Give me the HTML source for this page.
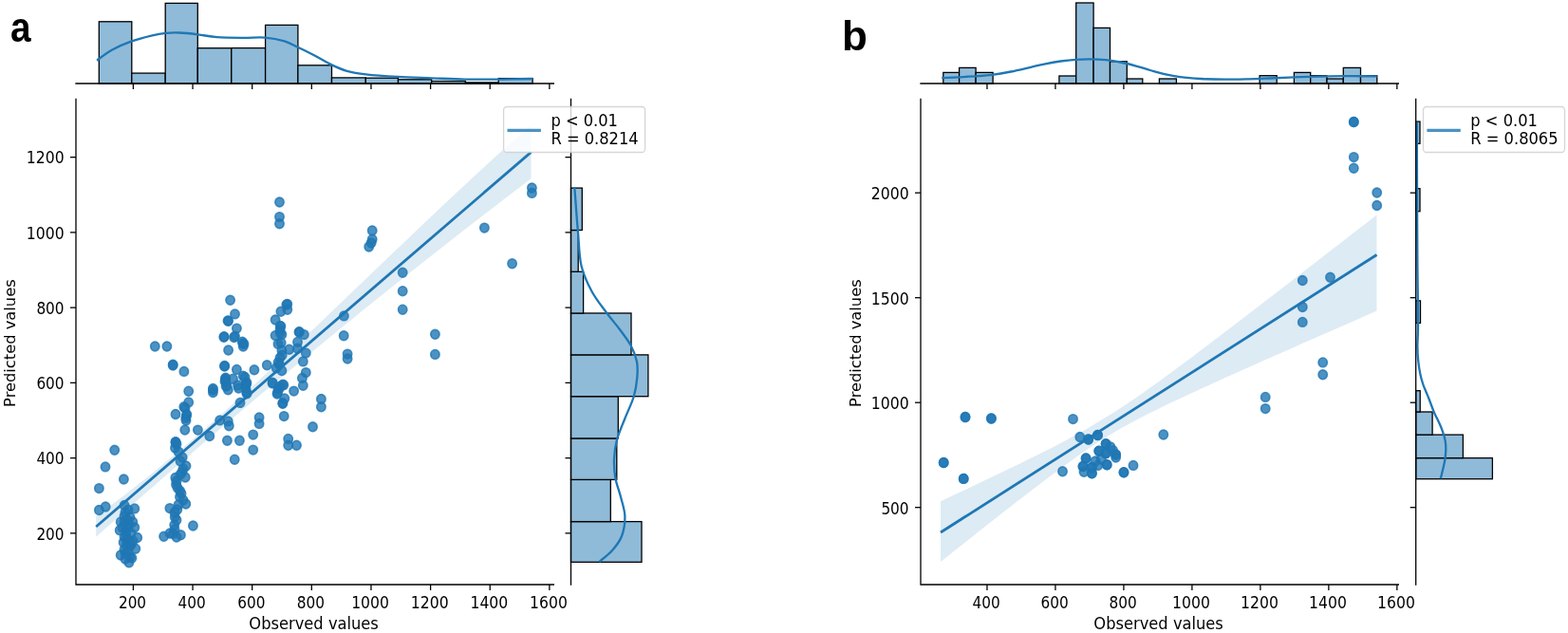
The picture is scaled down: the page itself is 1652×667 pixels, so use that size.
<!DOCTYPE html>
<html><head><meta charset="utf-8"><title>Observed vs predicted values</title>
<style>html,body{margin:0;padding:0;background:#fff;width:1652px;height:667px;overflow:hidden}svg{display:block}</style>
</head><body>
<svg width="1652" height="667" viewBox="0 0 1652 667">
<rect width="1652" height="667" fill="#fff"/>
<rect x="104.3" y="22.8" width="34.5" height="65.2" fill="#8fbbd9" stroke="#000" stroke-width="1.3"/>
<rect x="138.8" y="77.1" width="35.4" height="10.9" fill="#8fbbd9" stroke="#000" stroke-width="1.3"/>
<rect x="174.2" y="3.4" width="34.1" height="84.6" fill="#8fbbd9" stroke="#000" stroke-width="1.3"/>
<rect x="208.3" y="50.7" width="35.5" height="37.3" fill="#8fbbd9" stroke="#000" stroke-width="1.3"/>
<rect x="243.8" y="50.6" width="35.8" height="37.4" fill="#8fbbd9" stroke="#000" stroke-width="1.3"/>
<rect x="279.6" y="26.4" width="34.3" height="61.6" fill="#8fbbd9" stroke="#000" stroke-width="1.3"/>
<rect x="313.9" y="68.8" width="35.6" height="19.2" fill="#8fbbd9" stroke="#000" stroke-width="1.3"/>
<rect x="349.5" y="81.9" width="35.8" height="6.1" fill="#8fbbd9" stroke="#000" stroke-width="1.3"/>
<rect x="385.3" y="82.2" width="34.2" height="5.8" fill="#8fbbd9" stroke="#000" stroke-width="1.3"/>
<rect x="419.5" y="83.8" width="35.2" height="4.2" fill="#8fbbd9" stroke="#000" stroke-width="1.3"/>
<rect x="454.7" y="85.5" width="35.7" height="2.5" fill="#8fbbd9" stroke="#000" stroke-width="1.3"/>
<rect x="490.4" y="86.9" width="34.8" height="1.1" fill="#8fbbd9" stroke="#000" stroke-width="1.3"/>
<rect x="525.2" y="82.6" width="35.9" height="5.4" fill="#8fbbd9" stroke="#000" stroke-width="1.3"/>
<path d="M102.1,63.7 C104.7,61.87 111.58,56.08 117.7,52.7 C123.82,49.32 131.67,45.97 138.8,43.4 C145.93,40.83 154.52,38.72 160.5,37.3 C166.48,35.88 169.95,35.37 174.7,34.9 C179.45,34.43 183.37,34.27 189,34.5 C194.63,34.73 201.92,35.52 208.5,36.3 C215.08,37.08 220.42,38.6 228.5,39.2 C236.58,39.8 248.58,39.83 257,39.9 C265.42,39.97 271.88,39.02 279,39.6 C286.12,40.18 293.87,41.68 299.7,43.4 C305.53,45.12 308.95,47.52 314,49.9 C319.05,52.28 324.08,54.62 330,57.7 C335.92,60.78 343.57,65.55 349.5,68.4 C355.43,71.25 359.63,73.15 365.6,74.8 C371.57,76.45 376.32,77.28 385.3,78.3 C394.28,79.32 407.88,80.23 419.5,80.9 C431.12,81.57 443.25,81.85 455,82.3 C466.75,82.75 478.33,83.38 490,83.6 C501.67,83.82 513.17,83.7 525,83.6 C536.83,83.5 555,83.1 561,83" fill="none" stroke="#1f77b4" stroke-width="2.3" stroke-linecap="butt"/>
<line x1="79.35" y1="88" x2="584" y2="88" stroke="#000" stroke-width="1.3"/>
<line x1="140.4" y1="88" x2="140.4" y2="94" stroke="#000" stroke-width="1.3"/>
<line x1="203.04" y1="88" x2="203.04" y2="94" stroke="#000" stroke-width="1.3"/>
<line x1="265.68" y1="88" x2="265.68" y2="94" stroke="#000" stroke-width="1.3"/>
<line x1="328.32" y1="88" x2="328.32" y2="94" stroke="#000" stroke-width="1.3"/>
<line x1="390.96" y1="88" x2="390.96" y2="94" stroke="#000" stroke-width="1.3"/>
<line x1="453.6" y1="88" x2="453.6" y2="94" stroke="#000" stroke-width="1.3"/>
<line x1="516.24" y1="88" x2="516.24" y2="94" stroke="#000" stroke-width="1.3"/>
<line x1="578.88" y1="88" x2="578.88" y2="94" stroke="#000" stroke-width="1.3"/>
<rect x="601.5" y="549.6" width="74.5" height="42.7" fill="#8fbbd9" stroke="#000" stroke-width="1.3"/>
<rect x="601.5" y="505.4" width="41.8" height="44.2" fill="#8fbbd9" stroke="#000" stroke-width="1.3"/>
<rect x="601.5" y="461.9" width="48.3" height="43.5" fill="#8fbbd9" stroke="#000" stroke-width="1.3"/>
<rect x="601.5" y="417.7" width="49.8" height="44.2" fill="#8fbbd9" stroke="#000" stroke-width="1.3"/>
<rect x="601.5" y="373.9" width="81.4" height="43.8" fill="#8fbbd9" stroke="#000" stroke-width="1.3"/>
<rect x="601.5" y="330" width="63.5" height="43.9" fill="#8fbbd9" stroke="#000" stroke-width="1.3"/>
<rect x="601.5" y="286.3" width="13.1" height="43.7" fill="#8fbbd9" stroke="#000" stroke-width="1.3"/>
<rect x="601.5" y="242.5" width="7.7" height="43.8" fill="#8fbbd9" stroke="#000" stroke-width="1.3"/>
<rect x="601.5" y="198.1" width="11.8" height="44.4" fill="#8fbbd9" stroke="#000" stroke-width="1.3"/>
<path d="M605.3,197 C605.58,200.83 606.38,212 607,220 C607.62,228 608.08,235 609,245 C609.92,255 610.07,269.62 612.5,280 C614.93,290.38 619.12,298.97 623.6,307.3 C628.08,315.63 634.5,323.35 639.4,330 C644.3,336.65 648.8,341.53 653,347.2 C657.2,352.87 661.62,358.4 664.6,364 C667.58,369.6 669.78,375.2 670.9,380.8 C672.02,386.4 671.83,391.4 671.3,397.6 C670.77,403.8 669.85,410.77 667.7,418 C665.55,425.23 661.38,433.33 658.4,441 C655.42,448.67 651.7,456.83 649.8,464 C647.9,471.17 647.23,477.33 647,484 C646.77,490.67 647.22,497.33 648.4,504 C649.58,510.67 652.43,517.33 654.1,524 C655.77,530.67 658.25,537.17 658.4,544 C658.55,550.83 657.23,559 655,565 C652.77,571 648.95,575.5 645,580 C641.05,584.5 633.58,590 631.3,592" fill="none" stroke="#1f77b4" stroke-width="2.3"/>
<line x1="601.5" y1="103.7" x2="601.5" y2="616.65" stroke="#000" stroke-width="1.3"/>
<line x1="595.5" y1="561.86" x2="601.5" y2="561.86" stroke="#000" stroke-width="1.3"/>
<line x1="595.5" y1="482.62" x2="601.5" y2="482.62" stroke="#000" stroke-width="1.3"/>
<line x1="595.5" y1="403.38" x2="601.5" y2="403.38" stroke="#000" stroke-width="1.3"/>
<line x1="595.5" y1="324.14" x2="601.5" y2="324.14" stroke="#000" stroke-width="1.3"/>
<line x1="595.5" y1="244.9" x2="601.5" y2="244.9" stroke="#000" stroke-width="1.3"/>
<line x1="595.5" y1="165.66" x2="601.5" y2="165.66" stroke="#000" stroke-width="1.3"/>
<polygon points="101.2,543.98 106.93,539.83 112.66,535.63 118.39,531.37 124.12,527.06 129.84,522.7 135.57,518.29 141.3,513.83 147.03,509.33 152.76,504.77 158.49,500.17 164.22,495.53 169.94,490.85 175.67,486.12 181.4,481.35 187.13,476.55 192.86,471.7 198.59,466.82 204.32,461.9 210.05,456.94 215.78,451.95 221.5,446.93 227.23,441.87 232.96,436.79 238.69,431.67 244.42,426.53 250.15,421.36 255.88,416.16 261.61,410.94 267.33,405.69 273.06,400.42 278.79,395.12 284.52,389.81 290.25,384.48 295.98,379.12 301.71,373.75 307.44,368.37 313.16,362.97 318.89,357.55 324.62,352.12 330.35,346.68 336.08,341.23 341.81,335.76 347.54,330.29 353.26,324.82 358.99,319.33 364.72,313.84 370.45,308.34 376.18,302.85 381.91,297.35 387.64,291.84 393.37,286.34 399.1,280.84 404.82,275.34 410.55,269.85 416.28,264.36 422.01,258.88 427.74,253.4 433.47,247.93 439.2,242.47 444.93,237.02 450.65,231.58 456.38,226.15 462.11,220.73 467.84,215.33 473.57,209.95 479.3,204.58 485.03,199.23 490.75,193.9 496.48,188.59 502.21,183.3 507.94,178.03 513.67,172.79 519.4,167.57 525.13,162.37 530.86,157.2 536.59,152.06 542.31,146.95 548.04,141.87 553.77,136.82 559.5,131.8 559.5,188.31 553.77,192.65 548.04,197.01 542.31,201.37 536.59,205.74 530.86,210.12 525.13,214.51 519.4,218.92 513.67,223.33 507.94,227.75 502.21,232.17 496.48,236.61 490.75,241.06 485.03,245.52 479.3,249.99 473.57,254.46 467.84,258.95 462.11,263.44 456.38,267.95 450.65,272.46 444.93,276.99 439.2,281.52 433.47,286.06 427.74,290.61 422.01,295.17 416.28,299.75 410.55,304.33 404.82,308.92 399.1,313.52 393.37,318.12 387.64,322.74 381.91,327.37 376.18,332.01 370.45,336.65 364.72,341.31 358.99,345.97 353.26,350.65 347.54,355.33 341.81,360.03 336.08,364.73 330.35,369.44 324.62,374.16 318.89,378.9 313.16,383.64 307.44,388.39 301.71,393.15 295.98,397.92 290.25,402.69 284.52,407.48 278.79,412.28 273.06,417.09 267.33,421.9 261.61,426.73 255.88,431.57 250.15,436.41 244.42,441.26 238.69,446.13 232.96,451 227.23,455.88 221.5,460.78 215.78,465.68 210.05,470.59 204.32,475.51 198.59,480.44 192.86,485.38 187.13,490.33 181.4,495.28 175.67,500.25 169.94,505.23 164.22,510.22 158.49,515.21 152.76,520.22 147.03,525.23 141.3,530.26 135.57,535.29 129.84,540.33 124.12,545.39 118.39,550.45 112.66,555.52 106.93,560.6 101.2,565.69" fill="#ddebf4"/>
<g fill="#1f77b4" fill-opacity="0.8" stroke="#1f77b4" stroke-opacity="0.8" stroke-width="1.6">
<ellipse cx="294.5" cy="213" rx="4.65" ry="4.9"/>
<ellipse cx="294.5" cy="228.6" rx="4.65" ry="4.9"/>
<ellipse cx="294.5" cy="235.8" rx="4.65" ry="4.9"/>
<ellipse cx="392.2" cy="243" rx="4.65" ry="4.9"/>
<ellipse cx="392.2" cy="252.2" rx="4.65" ry="4.9"/>
<ellipse cx="391.1" cy="256" rx="4.65" ry="4.9"/>
<ellipse cx="388.7" cy="260" rx="4.65" ry="4.9"/>
<ellipse cx="424.2" cy="287.3" rx="4.65" ry="4.9"/>
<ellipse cx="424.2" cy="306.7" rx="4.65" ry="4.9"/>
<ellipse cx="424.2" cy="326.2" rx="4.65" ry="4.9"/>
<ellipse cx="362.4" cy="332.9" rx="4.65" ry="4.9"/>
<ellipse cx="362.2" cy="353.8" rx="4.65" ry="4.9"/>
<ellipse cx="366.1" cy="373.1" rx="4.65" ry="4.9"/>
<ellipse cx="366.1" cy="378" rx="4.65" ry="4.9"/>
<ellipse cx="458.4" cy="352.3" rx="4.65" ry="4.9"/>
<ellipse cx="458.4" cy="373.4" rx="4.65" ry="4.9"/>
<ellipse cx="338.4" cy="420.5" rx="4.65" ry="4.9"/>
<ellipse cx="338.4" cy="428.7" rx="4.65" ry="4.9"/>
<ellipse cx="329.5" cy="449.8" rx="4.65" ry="4.9"/>
<ellipse cx="510.4" cy="240.1" rx="4.65" ry="4.9"/>
<ellipse cx="539.6" cy="277.8" rx="4.65" ry="4.9"/>
<ellipse cx="560.4" cy="198" rx="4.65" ry="4.9"/>
<ellipse cx="560.4" cy="203.4" rx="4.65" ry="4.9"/>
<ellipse cx="120.7" cy="474.3" rx="4.65" ry="4.9"/>
<ellipse cx="111" cy="491.9" rx="4.65" ry="4.9"/>
<ellipse cx="130.4" cy="505" rx="4.65" ry="4.9"/>
<ellipse cx="104.4" cy="514.6" rx="4.65" ry="4.9"/>
<ellipse cx="104.4" cy="537.5" rx="4.65" ry="4.9"/>
<ellipse cx="111.2" cy="534" rx="4.65" ry="4.9"/>
<ellipse cx="163.3" cy="365" rx="4.65" ry="4.9"/>
<ellipse cx="175.9" cy="365" rx="4.65" ry="4.9"/>
<ellipse cx="182.2" cy="384.2" rx="4.65" ry="4.9"/>
<ellipse cx="193.9" cy="391.4" rx="4.65" ry="4.9"/>
<ellipse cx="198.7" cy="412.2" rx="4.65" ry="4.9"/>
<ellipse cx="198.7" cy="423.9" rx="4.65" ry="4.9"/>
<ellipse cx="193.8" cy="428.7" rx="4.65" ry="4.9"/>
<ellipse cx="185" cy="436.5" rx="4.65" ry="4.9"/>
<ellipse cx="196.7" cy="436.5" rx="4.65" ry="4.9"/>
<ellipse cx="195.8" cy="440.4" rx="4.65" ry="4.9"/>
<ellipse cx="194.8" cy="453.1" rx="4.65" ry="4.9"/>
<ellipse cx="208.4" cy="453.1" rx="4.65" ry="4.9"/>
<ellipse cx="185" cy="465.8" rx="4.65" ry="4.9"/>
<ellipse cx="184.5" cy="472" rx="4.65" ry="4.9"/>
<ellipse cx="192.2" cy="482" rx="4.65" ry="4.9"/>
<ellipse cx="196" cy="491" rx="4.65" ry="4.9"/>
<ellipse cx="192" cy="497.2" rx="4.65" ry="4.9"/>
<ellipse cx="184.8" cy="503.5" rx="4.65" ry="4.9"/>
<ellipse cx="195.2" cy="503" rx="4.65" ry="4.9"/>
<ellipse cx="185.5" cy="510.5" rx="4.65" ry="4.9"/>
<ellipse cx="189.6" cy="517.3" rx="4.65" ry="4.9"/>
<ellipse cx="189.5" cy="523.5" rx="4.65" ry="4.9"/>
<ellipse cx="195.8" cy="531" rx="4.65" ry="4.9"/>
<ellipse cx="178.9" cy="535.6" rx="4.65" ry="4.9"/>
<ellipse cx="186.8" cy="537" rx="4.65" ry="4.9"/>
<ellipse cx="184.2" cy="544.7" rx="4.65" ry="4.9"/>
<ellipse cx="183.7" cy="553.3" rx="4.65" ry="4.9"/>
<ellipse cx="203.4" cy="554" rx="4.65" ry="4.9"/>
<ellipse cx="172.6" cy="565.3" rx="4.65" ry="4.9"/>
<ellipse cx="182.4" cy="562.2" rx="4.65" ry="4.9"/>
<ellipse cx="190.4" cy="563.8" rx="4.65" ry="4.9"/>
<ellipse cx="131.1" cy="532.4" rx="4.65" ry="4.9"/>
<ellipse cx="141.8" cy="535.9" rx="4.65" ry="4.9"/>
<ellipse cx="135" cy="537.3" rx="4.65" ry="4.9"/>
<ellipse cx="131" cy="544" rx="4.65" ry="4.9"/>
<ellipse cx="127.2" cy="549.9" rx="4.65" ry="4.9"/>
<ellipse cx="139.8" cy="549.9" rx="4.65" ry="4.9"/>
<ellipse cx="126.2" cy="558.7" rx="4.65" ry="4.9"/>
<ellipse cx="134" cy="555.8" rx="4.65" ry="4.9"/>
<ellipse cx="141.8" cy="555.8" rx="4.65" ry="4.9"/>
<ellipse cx="144.7" cy="566.5" rx="4.65" ry="4.9"/>
<ellipse cx="133" cy="565.5" rx="4.65" ry="4.9"/>
<ellipse cx="130.1" cy="571.4" rx="4.65" ry="4.9"/>
<ellipse cx="134" cy="569.4" rx="4.65" ry="4.9"/>
<ellipse cx="142.8" cy="578.2" rx="4.65" ry="4.9"/>
<ellipse cx="136.9" cy="575.3" rx="4.65" ry="4.9"/>
<ellipse cx="132" cy="583.1" rx="4.65" ry="4.9"/>
<ellipse cx="127.2" cy="585" rx="4.65" ry="4.9"/>
<ellipse cx="138.9" cy="587.9" rx="4.65" ry="4.9"/>
<ellipse cx="135.9" cy="592.8" rx="4.65" ry="4.9"/>
<ellipse cx="242.6" cy="316.3" rx="4.65" ry="4.9"/>
<ellipse cx="247.5" cy="330.9" rx="4.65" ry="4.9"/>
<ellipse cx="240.6" cy="338.3" rx="4.65" ry="4.9"/>
<ellipse cx="249.4" cy="346.1" rx="4.65" ry="4.9"/>
<ellipse cx="235.8" cy="355.3" rx="4.65" ry="4.9"/>
<ellipse cx="247.5" cy="354.3" rx="4.65" ry="4.9"/>
<ellipse cx="255.3" cy="360.2" rx="4.65" ry="4.9"/>
<ellipse cx="256.2" cy="365" rx="4.65" ry="4.9"/>
<ellipse cx="240.6" cy="369" rx="4.65" ry="4.9"/>
<ellipse cx="236.7" cy="385.5" rx="4.65" ry="4.9"/>
<ellipse cx="249.4" cy="389.4" rx="4.65" ry="4.9"/>
<ellipse cx="267.9" cy="389.8" rx="4.65" ry="4.9"/>
<ellipse cx="237.7" cy="398.2" rx="4.65" ry="4.9"/>
<ellipse cx="245.5" cy="399.2" rx="4.65" ry="4.9"/>
<ellipse cx="256.2" cy="396.2" rx="4.65" ry="4.9"/>
<ellipse cx="259.2" cy="405" rx="4.65" ry="4.9"/>
<ellipse cx="260.1" cy="414.8" rx="4.65" ry="4.9"/>
<ellipse cx="224.4" cy="409.5" rx="4.65" ry="4.9"/>
<ellipse cx="224.4" cy="413.6" rx="4.65" ry="4.9"/>
<ellipse cx="239" cy="406.5" rx="4.65" ry="4.9"/>
<ellipse cx="240.3" cy="410.7" rx="4.65" ry="4.9"/>
<ellipse cx="250.5" cy="406" rx="4.65" ry="4.9"/>
<ellipse cx="251.4" cy="409" rx="4.65" ry="4.9"/>
<ellipse cx="259.5" cy="404.5" rx="4.65" ry="4.9"/>
<ellipse cx="259.8" cy="413.5" rx="4.65" ry="4.9"/>
<ellipse cx="253" cy="424.4" rx="4.65" ry="4.9"/>
<ellipse cx="302.8" cy="320.5" rx="4.65" ry="4.9"/>
<ellipse cx="302.8" cy="326.3" rx="4.65" ry="4.9"/>
<ellipse cx="295.9" cy="328.3" rx="4.65" ry="4.9"/>
<ellipse cx="290.1" cy="337" rx="4.65" ry="4.9"/>
<ellipse cx="295.9" cy="343.9" rx="4.65" ry="4.9"/>
<ellipse cx="295" cy="347.8" rx="4.65" ry="4.9"/>
<ellipse cx="290.1" cy="353.6" rx="4.65" ry="4.9"/>
<ellipse cx="296.9" cy="352.6" rx="4.65" ry="4.9"/>
<ellipse cx="293" cy="362.4" rx="4.65" ry="4.9"/>
<ellipse cx="315.4" cy="349.7" rx="4.65" ry="4.9"/>
<ellipse cx="320.3" cy="352.6" rx="4.65" ry="4.9"/>
<ellipse cx="313.5" cy="360.4" rx="4.65" ry="4.9"/>
<ellipse cx="304.7" cy="368.2" rx="4.65" ry="4.9"/>
<ellipse cx="296.9" cy="369.2" rx="4.65" ry="4.9"/>
<ellipse cx="313.5" cy="367.3" rx="4.65" ry="4.9"/>
<ellipse cx="322.3" cy="372.1" rx="4.65" ry="4.9"/>
<ellipse cx="295" cy="377" rx="4.65" ry="4.9"/>
<ellipse cx="293" cy="381.9" rx="4.65" ry="4.9"/>
<ellipse cx="319.3" cy="380.9" rx="4.65" ry="4.9"/>
<ellipse cx="281.3" cy="384.8" rx="4.65" ry="4.9"/>
<ellipse cx="291.1" cy="387.7" rx="4.65" ry="4.9"/>
<ellipse cx="296.9" cy="390.6" rx="4.65" ry="4.9"/>
<ellipse cx="322.3" cy="392.6" rx="4.65" ry="4.9"/>
<ellipse cx="318.4" cy="398.4" rx="4.65" ry="4.9"/>
<ellipse cx="319.3" cy="406.2" rx="4.65" ry="4.9"/>
<ellipse cx="287.2" cy="403.3" rx="4.65" ry="4.9"/>
<ellipse cx="297.9" cy="405.3" rx="4.65" ry="4.9"/>
<ellipse cx="293" cy="410.1" rx="4.65" ry="4.9"/>
<ellipse cx="292" cy="415" rx="4.65" ry="4.9"/>
<ellipse cx="299.8" cy="419.9" rx="4.65" ry="4.9"/>
<ellipse cx="297.9" cy="424.8" rx="4.65" ry="4.9"/>
<ellipse cx="309.6" cy="412.1" rx="4.65" ry="4.9"/>
<ellipse cx="257" cy="362.4" rx="4.65" ry="4.9"/>
<ellipse cx="258" cy="397.5" rx="4.65" ry="4.9"/>
<ellipse cx="259.9" cy="403.3" rx="4.65" ry="4.9"/>
<ellipse cx="258.9" cy="409.2" rx="4.65" ry="4.9"/>
<ellipse cx="231.6" cy="442.9" rx="4.65" ry="4.9"/>
<ellipse cx="240.3" cy="443.9" rx="4.65" ry="4.9"/>
<ellipse cx="241.3" cy="448.7" rx="4.65" ry="4.9"/>
<ellipse cx="220.8" cy="459.5" rx="4.65" ry="4.9"/>
<ellipse cx="239.4" cy="464.3" rx="4.65" ry="4.9"/>
<ellipse cx="252.4" cy="464.3" rx="4.65" ry="4.9"/>
<ellipse cx="247.2" cy="484.2" rx="4.65" ry="4.9"/>
<ellipse cx="266.7" cy="458.1" rx="4.65" ry="4.9"/>
<ellipse cx="266.7" cy="474.1" rx="4.65" ry="4.9"/>
<ellipse cx="273.1" cy="440" rx="4.65" ry="4.9"/>
<ellipse cx="273.1" cy="446.4" rx="4.65" ry="4.9"/>
<ellipse cx="287.1" cy="403.9" rx="4.65" ry="4.9"/>
<ellipse cx="294" cy="409.7" rx="4.65" ry="4.9"/>
<ellipse cx="298.8" cy="405.8" rx="4.65" ry="4.9"/>
<ellipse cx="297.8" cy="425.3" rx="4.65" ry="4.9"/>
<ellipse cx="299.2" cy="438.6" rx="4.65" ry="4.9"/>
<ellipse cx="303.7" cy="462.4" rx="4.65" ry="4.9"/>
<ellipse cx="303.7" cy="469.2" rx="4.65" ry="4.9"/>
<ellipse cx="312.5" cy="469.2" rx="4.65" ry="4.9"/>
<ellipse cx="132" cy="540" rx="4.65" ry="4.9"/>
<ellipse cx="137" cy="545" rx="4.65" ry="4.9"/>
<ellipse cx="131" cy="550" rx="4.65" ry="4.9"/>
<ellipse cx="136" cy="553" rx="4.65" ry="4.9"/>
<ellipse cx="133" cy="560" rx="4.65" ry="4.9"/>
<ellipse cx="138" cy="562" rx="4.65" ry="4.9"/>
<ellipse cx="131" cy="566" rx="4.65" ry="4.9"/>
<ellipse cx="136" cy="570" rx="4.65" ry="4.9"/>
<ellipse cx="133" cy="575" rx="4.65" ry="4.9"/>
<ellipse cx="138" cy="574" rx="4.65" ry="4.9"/>
<ellipse cx="131" cy="579" rx="4.65" ry="4.9"/>
<ellipse cx="135" cy="582" rx="4.65" ry="4.9"/>
<ellipse cx="137" cy="587" rx="4.65" ry="4.9"/>
<ellipse cx="132" cy="589" rx="4.65" ry="4.9"/>
<ellipse cx="134" cy="548" rx="4.65" ry="4.9"/>
<ellipse cx="129" cy="556" rx="4.65" ry="4.9"/>
<ellipse cx="140" cy="570" rx="4.65" ry="4.9"/>
<ellipse cx="186" cy="468" rx="4.65" ry="4.9"/>
<ellipse cx="188" cy="476" rx="4.65" ry="4.9"/>
<ellipse cx="190" cy="486" rx="4.65" ry="4.9"/>
<ellipse cx="193" cy="494" rx="4.65" ry="4.9"/>
<ellipse cx="190" cy="500" rx="4.65" ry="4.9"/>
<ellipse cx="186" cy="507" rx="4.65" ry="4.9"/>
<ellipse cx="187" cy="514" rx="4.65" ry="4.9"/>
<ellipse cx="191" cy="520" rx="4.65" ry="4.9"/>
<ellipse cx="193" cy="527" rx="4.65" ry="4.9"/>
<ellipse cx="188" cy="532" rx="4.65" ry="4.9"/>
<ellipse cx="184" cy="540" rx="4.65" ry="4.9"/>
<ellipse cx="186" cy="548" rx="4.65" ry="4.9"/>
<ellipse cx="184" cy="558" rx="4.65" ry="4.9"/>
<ellipse cx="186" cy="566" rx="4.65" ry="4.9"/>
<ellipse cx="179" cy="562" rx="4.65" ry="4.9"/>
<ellipse cx="182.2" cy="385" rx="4.65" ry="4.9"/>
<ellipse cx="195" cy="430" rx="4.65" ry="4.9"/>
<ellipse cx="196.5" cy="438" rx="4.65" ry="4.9"/>
<ellipse cx="196" cy="443" rx="4.65" ry="4.9"/>
<ellipse cx="224.4" cy="411" rx="4.65" ry="4.9"/>
<ellipse cx="236.5" cy="386" rx="4.65" ry="4.9"/>
<ellipse cx="237" cy="402" rx="4.65" ry="4.9"/>
<ellipse cx="237.5" cy="399" rx="4.65" ry="4.9"/>
<ellipse cx="185" cy="466" rx="4.65" ry="4.9"/>
<ellipse cx="240" cy="338" rx="4.65" ry="4.9"/>
<ellipse cx="236.2" cy="354.7" rx="4.65" ry="4.9"/>
<ellipse cx="246.6" cy="355.6" rx="4.65" ry="4.9"/>
<ellipse cx="255.9" cy="362" rx="4.65" ry="4.9"/>
<ellipse cx="237.5" cy="400.6" rx="4.65" ry="4.9"/>
<ellipse cx="238.1" cy="407" rx="4.65" ry="4.9"/>
<ellipse cx="301.8" cy="320.9" rx="4.65" ry="4.9"/>
<ellipse cx="295.3" cy="343.4" rx="4.65" ry="4.9"/>
<ellipse cx="295.3" cy="350.9" rx="4.65" ry="4.9"/>
<ellipse cx="296.2" cy="361.2" rx="4.65" ry="4.9"/>
<ellipse cx="315" cy="350" rx="4.65" ry="4.9"/>
<ellipse cx="297.2" cy="374.3" rx="4.65" ry="4.9"/>
<ellipse cx="294.3" cy="383.7" rx="4.65" ry="4.9"/>
<ellipse cx="295.3" cy="407.1" rx="4.65" ry="4.9"/>
<ellipse cx="292.5" cy="413.7" rx="4.65" ry="4.9"/>
</g>
<line x1="101.2" y1="554.96" x2="559.5" y2="160.36" stroke="#1f77b4" stroke-width="2.8"/>
<polyline points="80,103.7 80,616 584,616" fill="none" stroke="#000" stroke-width="1.3"/>
<line x1="140.4" y1="616" x2="140.4" y2="622" stroke="#000" stroke-width="1.3"/>
<text transform="translate(139.5,640.5) scale(0.94,1.06)" text-anchor="middle" font-size="16.3" font-family="'DejaVu Sans', 'Liberation Sans', sans-serif">200</text>
<line x1="203.04" y1="616" x2="203.04" y2="622" stroke="#000" stroke-width="1.3"/>
<text transform="translate(202.14,640.5) scale(0.94,1.06)" text-anchor="middle" font-size="16.3" font-family="'DejaVu Sans', 'Liberation Sans', sans-serif">400</text>
<line x1="265.68" y1="616" x2="265.68" y2="622" stroke="#000" stroke-width="1.3"/>
<text transform="translate(264.78,640.5) scale(0.94,1.06)" text-anchor="middle" font-size="16.3" font-family="'DejaVu Sans', 'Liberation Sans', sans-serif">600</text>
<line x1="328.32" y1="616" x2="328.32" y2="622" stroke="#000" stroke-width="1.3"/>
<text transform="translate(327.42,640.5) scale(0.94,1.06)" text-anchor="middle" font-size="16.3" font-family="'DejaVu Sans', 'Liberation Sans', sans-serif">800</text>
<line x1="390.96" y1="616" x2="390.96" y2="622" stroke="#000" stroke-width="1.3"/>
<text transform="translate(390.06,640.5) scale(0.96,1.06)" text-anchor="middle" font-size="16.3" font-family="'DejaVu Sans', 'Liberation Sans', sans-serif">1000</text>
<line x1="453.6" y1="616" x2="453.6" y2="622" stroke="#000" stroke-width="1.3"/>
<text transform="translate(452.7,640.5) scale(0.96,1.06)" text-anchor="middle" font-size="16.3" font-family="'DejaVu Sans', 'Liberation Sans', sans-serif">1200</text>
<line x1="516.24" y1="616" x2="516.24" y2="622" stroke="#000" stroke-width="1.3"/>
<text transform="translate(515.34,640.5) scale(0.96,1.06)" text-anchor="middle" font-size="16.3" font-family="'DejaVu Sans', 'Liberation Sans', sans-serif">1400</text>
<line x1="578.88" y1="616" x2="578.88" y2="622" stroke="#000" stroke-width="1.3"/>
<text transform="translate(577.98,640.5) scale(0.96,1.06)" text-anchor="middle" font-size="16.3" font-family="'DejaVu Sans', 'Liberation Sans', sans-serif">1600</text>
<line x1="74" y1="561.86" x2="80" y2="561.86" stroke="#000" stroke-width="1.3"/>
<text transform="translate(67.6,568.66) scale(0.94,1.06)" text-anchor="end" font-size="16.3" font-family="'DejaVu Sans', 'Liberation Sans', sans-serif">200</text>
<line x1="74" y1="482.62" x2="80" y2="482.62" stroke="#000" stroke-width="1.3"/>
<text transform="translate(67.6,489.42) scale(0.94,1.06)" text-anchor="end" font-size="16.3" font-family="'DejaVu Sans', 'Liberation Sans', sans-serif">400</text>
<line x1="74" y1="403.38" x2="80" y2="403.38" stroke="#000" stroke-width="1.3"/>
<text transform="translate(67.6,410.18) scale(0.94,1.06)" text-anchor="end" font-size="16.3" font-family="'DejaVu Sans', 'Liberation Sans', sans-serif">600</text>
<line x1="74" y1="324.14" x2="80" y2="324.14" stroke="#000" stroke-width="1.3"/>
<text transform="translate(67.6,330.94) scale(0.94,1.06)" text-anchor="end" font-size="16.3" font-family="'DejaVu Sans', 'Liberation Sans', sans-serif">800</text>
<line x1="74" y1="244.9" x2="80" y2="244.9" stroke="#000" stroke-width="1.3"/>
<text transform="translate(67.6,251.7) scale(0.96,1.06)" text-anchor="end" font-size="16.3" font-family="'DejaVu Sans', 'Liberation Sans', sans-serif">1000</text>
<line x1="74" y1="165.66" x2="80" y2="165.66" stroke="#000" stroke-width="1.3"/>
<text transform="translate(67.6,172.46) scale(0.96,1.06)" text-anchor="end" font-size="16.3" font-family="'DejaVu Sans', 'Liberation Sans', sans-serif">1200</text>
<text transform="translate(330.6,662.6) scale(1,1.06)" text-anchor="middle" font-size="16.3" font-family="'DejaVu Sans', 'Liberation Sans', sans-serif">Observed values</text>
<text transform="translate(15.8,361.6) rotate(-90)" text-anchor="middle" font-size="16.3" font-family="'DejaVu Sans', 'Liberation Sans', sans-serif">Predicted values</text>
<rect x="530.6" y="112.5" width="149" height="48" rx="3.5" fill="#fff" fill-opacity="0.8" stroke="#cccccc" stroke-opacity="0.8" stroke-width="1.3"/>
<line x1="534.5" y1="137.4" x2="569.9" y2="137.4" stroke="#4b92c3" stroke-width="3.2"/>
<text transform="translate(580.4,132.7) scale(1,1.04)" font-size="16.3" font-family="'DejaVu Sans', 'Liberation Sans', sans-serif">p &lt; 0.01</text>
<text transform="translate(580.4,152.1) scale(1,1.04)" font-size="16.3" font-family="'DejaVu Sans', 'Liberation Sans', sans-serif">R = 0.8214</text>
<text transform="translate(11,44.4) scale(0.88,1)" font-size="44" font-weight="bold" font-family="'Liberation Sans', Arial, sans-serif">a</text>
<rect x="993.8" y="76.4" width="16.8" height="11.6" fill="#8fbbd9" stroke="#000" stroke-width="1.3"/>
<rect x="1010.6" y="71.4" width="17.5" height="16.6" fill="#8fbbd9" stroke="#000" stroke-width="1.3"/>
<rect x="1028.1" y="76.4" width="18" height="11.6" fill="#8fbbd9" stroke="#000" stroke-width="1.3"/>
<rect x="1115.9" y="80" width="17.8" height="8" fill="#8fbbd9" stroke="#000" stroke-width="1.3"/>
<rect x="1133.7" y="3" width="18.4" height="85" fill="#8fbbd9" stroke="#000" stroke-width="1.3"/>
<rect x="1152.1" y="29.4" width="17.4" height="58.6" fill="#8fbbd9" stroke="#000" stroke-width="1.3"/>
<rect x="1169.5" y="64.8" width="17.8" height="23.2" fill="#8fbbd9" stroke="#000" stroke-width="1.3"/>
<rect x="1187.3" y="83" width="16.5" height="5" fill="#8fbbd9" stroke="#000" stroke-width="1.3"/>
<rect x="1221.4" y="83" width="18" height="5" fill="#8fbbd9" stroke="#000" stroke-width="1.3"/>
<rect x="1327.1" y="79.7" width="18.1" height="8.3" fill="#8fbbd9" stroke="#000" stroke-width="1.3"/>
<rect x="1363.4" y="76.4" width="17.3" height="11.6" fill="#8fbbd9" stroke="#000" stroke-width="1.3"/>
<rect x="1380.7" y="79.7" width="17.3" height="8.3" fill="#8fbbd9" stroke="#000" stroke-width="1.3"/>
<rect x="1398" y="83" width="17.3" height="5" fill="#8fbbd9" stroke="#000" stroke-width="1.3"/>
<rect x="1415.3" y="71.4" width="18.2" height="16.6" fill="#8fbbd9" stroke="#000" stroke-width="1.3"/>
<rect x="1433.5" y="79.7" width="17.3" height="8.3" fill="#8fbbd9" stroke="#000" stroke-width="1.3"/>
<path d="M992.2,82.2 C995.17,82.05 1003.7,81.63 1010,81.3 C1016.3,80.97 1024.17,80.6 1030,80.2 C1035.83,79.8 1039.17,79.68 1045,78.9 C1050.83,78.12 1058.17,76.85 1065,75.5 C1071.83,74.15 1080.17,72.12 1086,70.8 C1091.83,69.48 1094.77,68.65 1100,67.6 C1105.23,66.55 1111.9,65.3 1117.4,64.5 C1122.9,63.7 1127.75,63.17 1133,62.8 C1138.25,62.43 1143.57,62.23 1148.9,62.3 C1154.23,62.37 1159.77,62.67 1165,63.2 C1170.23,63.73 1175.13,64.48 1180.3,65.5 C1185.47,66.52 1190.75,67.88 1196,69.3 C1201.25,70.72 1206.63,72.52 1211.8,74 C1216.97,75.48 1221.75,77 1227,78.2 C1232.25,79.4 1236.97,80.4 1243.3,81.2 C1249.63,82 1257.13,82.58 1265,83 C1272.87,83.42 1282.17,83.65 1290.5,83.7 C1298.83,83.75 1307.13,83.5 1315,83.3 C1322.87,83.1 1328.67,82.85 1337.7,82.5 C1346.73,82.15 1358.7,81.57 1369.2,81.2 C1379.7,80.83 1391.4,80.47 1400.7,80.3 C1410,80.13 1416.65,80.18 1425,80.2 C1433.35,80.22 1446.5,80.37 1450.8,80.4" fill="none" stroke="#1f77b4" stroke-width="2.3" stroke-linecap="butt"/>
<line x1="969.35" y1="88" x2="1474" y2="88" stroke="#000" stroke-width="1.3"/>
<line x1="1039.96" y1="88" x2="1039.96" y2="94" stroke="#000" stroke-width="1.3"/>
<line x1="1111.94" y1="88" x2="1111.94" y2="94" stroke="#000" stroke-width="1.3"/>
<line x1="1183.92" y1="88" x2="1183.92" y2="94" stroke="#000" stroke-width="1.3"/>
<line x1="1255.9" y1="88" x2="1255.9" y2="94" stroke="#000" stroke-width="1.3"/>
<line x1="1327.88" y1="88" x2="1327.88" y2="94" stroke="#000" stroke-width="1.3"/>
<line x1="1399.86" y1="88" x2="1399.86" y2="94" stroke="#000" stroke-width="1.3"/>
<line x1="1471.84" y1="88" x2="1471.84" y2="94" stroke="#000" stroke-width="1.3"/>
<rect x="1491.7" y="482.6" width="80.7" height="22.1" fill="#8fbbd9" stroke="#000" stroke-width="1.3"/>
<rect x="1491.7" y="458.1" width="49.7" height="24.5" fill="#8fbbd9" stroke="#000" stroke-width="1.3"/>
<rect x="1491.7" y="434" width="17.4" height="24.1" fill="#8fbbd9" stroke="#000" stroke-width="1.3"/>
<rect x="1491.7" y="411.7" width="4.5" height="22.3" fill="#8fbbd9" stroke="#000" stroke-width="1.3"/>
<rect x="1491.7" y="316.9" width="4.8" height="23.5" fill="#8fbbd9" stroke="#000" stroke-width="1.3"/>
<rect x="1491.7" y="198.7" width="4.3" height="24" fill="#8fbbd9" stroke="#000" stroke-width="1.3"/>
<rect x="1491.7" y="128.1" width="4.3" height="23.2" fill="#8fbbd9" stroke="#000" stroke-width="1.3"/>
<path d="M1492.8,128.5 C1492.83,140.42 1492.9,174.75 1493,200 C1493.1,225.25 1493.23,258.33 1493.4,280 C1493.57,301.67 1493.92,318.33 1494,330 C1494.08,341.67 1494,344.17 1493.9,350 C1493.8,355.83 1493.35,360 1493.4,365 C1493.45,370 1493.72,375.17 1494.2,380 C1494.68,384.83 1495.45,389.83 1496.3,394 C1497.15,398.17 1498.27,401.83 1499.3,405 C1500.33,408.17 1501.48,410.5 1502.5,413 C1503.52,415.5 1504,416.42 1505.4,420 C1506.8,423.58 1509.22,430.5 1510.9,434.5 C1512.58,438.5 1514.07,440.85 1515.5,444 C1516.93,447.15 1518.32,450.07 1519.5,453.4 C1520.68,456.73 1521.97,460.83 1522.6,464 C1523.23,467.17 1523.27,469.57 1523.3,472.4 C1523.33,475.23 1523.07,478.42 1522.8,481 C1522.53,483.58 1522.53,484.02 1521.7,487.9 C1520.87,491.78 1518.45,501.57 1517.8,504.3" fill="none" stroke="#1f77b4" stroke-width="2.3"/>
<line x1="1491.7" y1="103.7" x2="1491.7" y2="616.65" stroke="#000" stroke-width="1.3"/>
<line x1="1485.7" y1="534.7" x2="1491.7" y2="534.7" stroke="#000" stroke-width="1.3"/>
<line x1="1485.7" y1="424.2" x2="1491.7" y2="424.2" stroke="#000" stroke-width="1.3"/>
<line x1="1485.7" y1="313.7" x2="1491.7" y2="313.7" stroke="#000" stroke-width="1.3"/>
<line x1="1485.7" y1="203.2" x2="1491.7" y2="203.2" stroke="#000" stroke-width="1.3"/>
<polygon points="991,528.17 996.74,525.48 1002.49,522.79 1008.23,520.09 1013.98,517.39 1019.72,514.68 1025.46,511.97 1031.21,509.25 1036.95,506.53 1042.69,503.8 1048.44,501.06 1054.18,498.31 1059.92,495.55 1065.67,492.78 1071.41,489.99 1077.16,487.19 1082.9,484.37 1088.64,481.54 1094.39,478.68 1100.13,475.79 1105.88,472.88 1111.62,469.93 1117.36,466.94 1123.11,463.9 1128.85,460.81 1134.59,457.66 1140.34,454.45 1146.08,451.16 1151.83,447.78 1157.57,444.32 1163.31,440.77 1169.06,437.23 1174.8,433.63 1180.54,429.94 1186.29,426.17 1192.03,422.32 1197.78,418.39 1203.52,414.41 1209.26,410.36 1215.01,406.27 1220.75,402.13 1226.49,397.95 1232.24,393.75 1237.98,389.51 1243.72,385.25 1249.47,380.97 1255.21,376.66 1260.96,372.35 1266.7,368.02 1272.44,363.67 1278.19,359.32 1283.93,354.95 1289.67,350.58 1295.42,346.19 1301.16,341.8 1306.91,337.41 1312.65,333.01 1318.39,328.6 1324.14,324.19 1329.88,319.77 1335.62,315.35 1341.37,310.93 1347.11,306.51 1352.86,302.08 1358.6,297.64 1364.34,293.21 1370.09,288.77 1375.83,284.33 1381.58,279.89 1387.32,275.45 1393.06,271.01 1398.81,266.56 1404.55,262.11 1410.29,257.67 1416.04,253.22 1421.78,248.76 1427.53,244.31 1433.27,239.86 1439.01,235.4 1444.76,230.95 1450.5,226.49 1450.5,327.59 1444.76,330.1 1439.01,332.61 1433.27,335.13 1427.53,337.64 1421.78,340.16 1416.04,342.67 1410.29,345.19 1404.55,347.71 1398.81,350.23 1393.06,352.75 1387.32,355.27 1381.58,357.8 1375.83,360.32 1370.09,362.85 1364.34,365.38 1358.6,367.91 1352.86,370.45 1347.11,372.99 1341.37,375.53 1335.62,378.07 1329.88,380.62 1324.14,383.17 1318.39,385.73 1312.65,388.29 1306.91,390.85 1301.16,393.43 1295.42,396 1289.67,398.59 1283.93,401.18 1278.19,403.78 1272.44,406.39 1266.7,409.02 1260.96,411.65 1255.21,414.3 1249.47,416.97 1243.72,419.65 1237.98,422.36 1232.24,425.09 1226.49,427.85 1220.75,430.64 1215.01,433.47 1209.26,436.34 1203.52,439.27 1197.78,442.25 1192.03,445.29 1186.29,448.4 1180.54,451.6 1174.8,454.88 1169.06,458.25 1163.31,461.76 1157.57,465.46 1151.83,469.25 1146.08,473.13 1140.34,477.1 1134.59,481.14 1128.85,485.24 1123.11,489.41 1117.36,493.63 1111.62,497.89 1105.88,502.19 1100.13,506.53 1094.39,510.9 1088.64,515.3 1082.9,519.71 1077.16,524.15 1071.41,528.6 1065.67,533.07 1059.92,537.56 1054.18,542.05 1048.44,546.56 1042.69,551.07 1036.95,555.59 1031.21,560.12 1025.46,564.66 1019.72,569.2 1013.98,573.75 1008.23,578.31 1002.49,582.86 996.74,587.42 991,591.99" fill="#ddebf4"/>
<g fill="#1f77b4" fill-opacity="0.8" stroke="#1f77b4" stroke-opacity="0.8" stroke-width="1.6">
<ellipse cx="1017" cy="439.5" rx="4.65" ry="4.9"/>
<ellipse cx="1017" cy="439.5" rx="4.65" ry="4.9"/>
<ellipse cx="1044.4" cy="441" rx="4.65" ry="4.9"/>
<ellipse cx="1044.4" cy="441" rx="4.65" ry="4.9"/>
<ellipse cx="994.2" cy="487.5" rx="4.65" ry="4.9"/>
<ellipse cx="994.2" cy="487.5" rx="4.65" ry="4.9"/>
<ellipse cx="1015.2" cy="504.4" rx="4.65" ry="4.9"/>
<ellipse cx="1015.2" cy="504.4" rx="4.65" ry="4.9"/>
<ellipse cx="1130.5" cy="441.6" rx="4.65" ry="4.9"/>
<ellipse cx="1119.5" cy="496.8" rx="4.65" ry="4.9"/>
<ellipse cx="1137.8" cy="460.5" rx="4.65" ry="4.9"/>
<ellipse cx="1146.7" cy="463" rx="4.65" ry="4.9"/>
<ellipse cx="1146.7" cy="463" rx="4.65" ry="4.9"/>
<ellipse cx="1156.5" cy="458.5" rx="4.65" ry="4.9"/>
<ellipse cx="1156.5" cy="458.5" rx="4.65" ry="4.9"/>
<ellipse cx="1165.1" cy="467.8" rx="4.65" ry="4.9"/>
<ellipse cx="1165.1" cy="467.8" rx="4.65" ry="4.9"/>
<ellipse cx="1157.8" cy="475.2" rx="4.65" ry="4.9"/>
<ellipse cx="1157.8" cy="475.2" rx="4.65" ry="4.9"/>
<ellipse cx="1165.1" cy="477.8" rx="4.65" ry="4.9"/>
<ellipse cx="1165.1" cy="477.8" rx="4.65" ry="4.9"/>
<ellipse cx="1175.6" cy="479" rx="4.65" ry="4.9"/>
<ellipse cx="1175.6" cy="479" rx="4.65" ry="4.9"/>
<ellipse cx="1175.6" cy="482" rx="4.65" ry="4.9"/>
<ellipse cx="1166.2" cy="489.8" rx="4.65" ry="4.9"/>
<ellipse cx="1166.2" cy="489.8" rx="4.65" ry="4.9"/>
<ellipse cx="1144.1" cy="483" rx="4.65" ry="4.9"/>
<ellipse cx="1144.1" cy="483" rx="4.65" ry="4.9"/>
<ellipse cx="1141" cy="491.4" rx="4.65" ry="4.9"/>
<ellipse cx="1141" cy="491.4" rx="4.65" ry="4.9"/>
<ellipse cx="1150.4" cy="492.5" rx="4.65" ry="4.9"/>
<ellipse cx="1150.4" cy="492.5" rx="4.65" ry="4.9"/>
<ellipse cx="1142" cy="497.2" rx="4.65" ry="4.9"/>
<ellipse cx="1150.4" cy="498.8" rx="4.65" ry="4.9"/>
<ellipse cx="1150.4" cy="498.8" rx="4.65" ry="4.9"/>
<ellipse cx="1156.7" cy="490.4" rx="4.65" ry="4.9"/>
<ellipse cx="1184" cy="497.7" rx="4.65" ry="4.9"/>
<ellipse cx="1184" cy="497.7" rx="4.65" ry="4.9"/>
<ellipse cx="1194" cy="490.4" rx="4.65" ry="4.9"/>
<ellipse cx="1160" cy="484" rx="4.65" ry="4.9"/>
<ellipse cx="1172.5" cy="474.6" rx="4.65" ry="4.9"/>
<ellipse cx="1154" cy="486" rx="4.65" ry="4.9"/>
<ellipse cx="1170" cy="471" rx="4.65" ry="4.9"/>
<ellipse cx="1225.8" cy="458" rx="4.65" ry="4.9"/>
<ellipse cx="1333.2" cy="418.4" rx="4.65" ry="4.9"/>
<ellipse cx="1333.2" cy="430.6" rx="4.65" ry="4.9"/>
<ellipse cx="1393.7" cy="381.9" rx="4.65" ry="4.9"/>
<ellipse cx="1393.7" cy="394.8" rx="4.65" ry="4.9"/>
<ellipse cx="1372.3" cy="295.5" rx="4.65" ry="4.9"/>
<ellipse cx="1372.3" cy="323.5" rx="4.65" ry="4.9"/>
<ellipse cx="1372.3" cy="339.4" rx="4.65" ry="4.9"/>
<ellipse cx="1401.5" cy="292.3" rx="4.65" ry="4.9"/>
<ellipse cx="1426.3" cy="128.5" rx="4.65" ry="4.9"/>
<ellipse cx="1426.3" cy="128.5" rx="4.65" ry="4.9"/>
<ellipse cx="1426.3" cy="165.6" rx="4.65" ry="4.9"/>
<ellipse cx="1426.3" cy="177.2" rx="4.65" ry="4.9"/>
<ellipse cx="1450.7" cy="203" rx="4.65" ry="4.9"/>
<ellipse cx="1450.7" cy="216.5" rx="4.65" ry="4.9"/>
</g>
<line x1="991" y1="560.95" x2="1450.5" y2="268.48" stroke="#1f77b4" stroke-width="2.8"/>
<polyline points="970,103.7 970,616 1474,616" fill="none" stroke="#000" stroke-width="1.3"/>
<line x1="1039.96" y1="616" x2="1039.96" y2="622" stroke="#000" stroke-width="1.3"/>
<text transform="translate(1039.06,640.5) scale(0.94,1.06)" text-anchor="middle" font-size="16.3" font-family="'DejaVu Sans', 'Liberation Sans', sans-serif">400</text>
<line x1="1111.94" y1="616" x2="1111.94" y2="622" stroke="#000" stroke-width="1.3"/>
<text transform="translate(1111.04,640.5) scale(0.94,1.06)" text-anchor="middle" font-size="16.3" font-family="'DejaVu Sans', 'Liberation Sans', sans-serif">600</text>
<line x1="1183.92" y1="616" x2="1183.92" y2="622" stroke="#000" stroke-width="1.3"/>
<text transform="translate(1183.02,640.5) scale(0.94,1.06)" text-anchor="middle" font-size="16.3" font-family="'DejaVu Sans', 'Liberation Sans', sans-serif">800</text>
<line x1="1255.9" y1="616" x2="1255.9" y2="622" stroke="#000" stroke-width="1.3"/>
<text transform="translate(1255,640.5) scale(0.96,1.06)" text-anchor="middle" font-size="16.3" font-family="'DejaVu Sans', 'Liberation Sans', sans-serif">1000</text>
<line x1="1327.88" y1="616" x2="1327.88" y2="622" stroke="#000" stroke-width="1.3"/>
<text transform="translate(1326.98,640.5) scale(0.96,1.06)" text-anchor="middle" font-size="16.3" font-family="'DejaVu Sans', 'Liberation Sans', sans-serif">1200</text>
<line x1="1399.86" y1="616" x2="1399.86" y2="622" stroke="#000" stroke-width="1.3"/>
<text transform="translate(1398.96,640.5) scale(0.96,1.06)" text-anchor="middle" font-size="16.3" font-family="'DejaVu Sans', 'Liberation Sans', sans-serif">1400</text>
<line x1="1471.84" y1="616" x2="1471.84" y2="622" stroke="#000" stroke-width="1.3"/>
<text transform="translate(1470.94,640.5) scale(0.96,1.06)" text-anchor="middle" font-size="16.3" font-family="'DejaVu Sans', 'Liberation Sans', sans-serif">1600</text>
<line x1="964" y1="534.7" x2="970" y2="534.7" stroke="#000" stroke-width="1.3"/>
<text transform="translate(957.6,541.5) scale(0.94,1.06)" text-anchor="end" font-size="16.3" font-family="'DejaVu Sans', 'Liberation Sans', sans-serif">500</text>
<line x1="964" y1="424.2" x2="970" y2="424.2" stroke="#000" stroke-width="1.3"/>
<text transform="translate(957.6,431) scale(0.96,1.06)" text-anchor="end" font-size="16.3" font-family="'DejaVu Sans', 'Liberation Sans', sans-serif">1000</text>
<line x1="964" y1="313.7" x2="970" y2="313.7" stroke="#000" stroke-width="1.3"/>
<text transform="translate(957.6,320.5) scale(0.96,1.06)" text-anchor="end" font-size="16.3" font-family="'DejaVu Sans', 'Liberation Sans', sans-serif">1500</text>
<line x1="964" y1="203.2" x2="970" y2="203.2" stroke="#000" stroke-width="1.3"/>
<text transform="translate(957.6,210) scale(0.96,1.06)" text-anchor="end" font-size="16.3" font-family="'DejaVu Sans', 'Liberation Sans', sans-serif">2000</text>
<text transform="translate(1220.6,662.6) scale(1,1.06)" text-anchor="middle" font-size="16.3" font-family="'DejaVu Sans', 'Liberation Sans', sans-serif">Observed values</text>
<text transform="translate(906.8,361.6) rotate(-90)" text-anchor="middle" font-size="16.3" font-family="'DejaVu Sans', 'Liberation Sans', sans-serif">Predicted values</text>
<rect x="1499.5" y="112.5" width="149" height="48" rx="3.5" fill="#fff" fill-opacity="0.8" stroke="#cccccc" stroke-opacity="0.8" stroke-width="1.3"/>
<line x1="1503.4" y1="137.4" x2="1538.8" y2="137.4" stroke="#4b92c3" stroke-width="3.2"/>
<text transform="translate(1549.3,132.7) scale(1,1.04)" font-size="16.3" font-family="'DejaVu Sans', 'Liberation Sans', sans-serif">p &lt; 0.01</text>
<text transform="translate(1549.3,152.1) scale(1,1.04)" font-size="16.3" font-family="'DejaVu Sans', 'Liberation Sans', sans-serif">R = 0.8065</text>
<text transform="translate(887,53.3) scale(1.0,1)" font-size="44" font-weight="bold" font-family="'Liberation Sans', Arial, sans-serif">b</text>
</svg>
</body></html>
